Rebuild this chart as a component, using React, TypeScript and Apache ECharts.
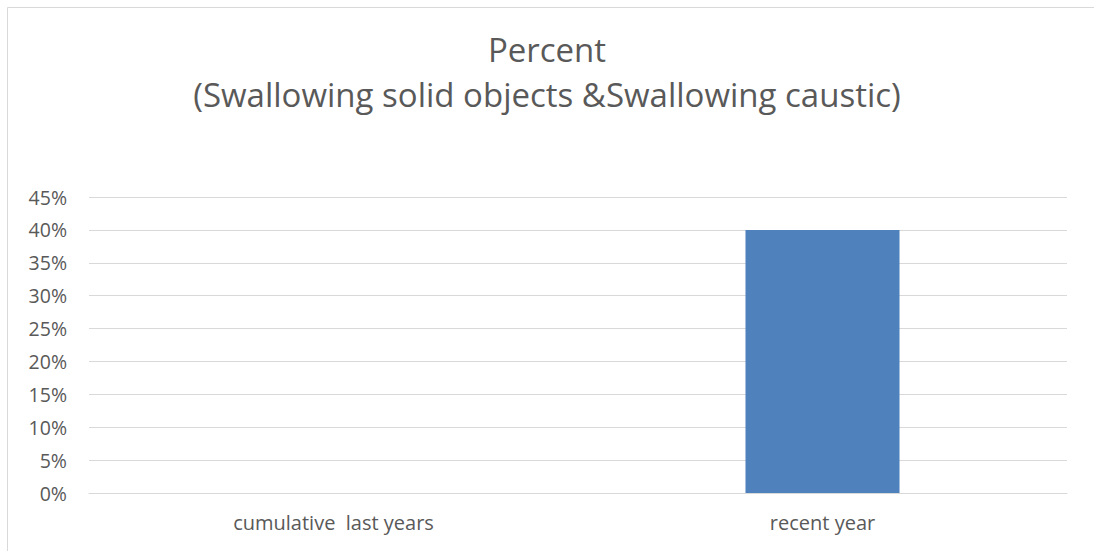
import React, { useEffect, useRef } from "react";
import * as echarts from "echarts";

const titleLines = ["Percent", "(Swallowing solid objects &Swallowing caustic)"];
const categories = ["cumulative  last years", "recent year"];
const values = [0, 0.4];
const yMin = 0;
const yMax = 0.45;
const yInterval = 0.05;

export default function App() {
  const ref = useRef<HTMLDivElement>(null);
  useEffect(() => {
    if (!ref.current) return;
    const chart = echarts.init(ref.current, undefined, { renderer: "svg" });
    const font = "'Open Sans', 'Liberation Sans', sans-serif";
    chart.setOption({
      animation: false,
      backgroundColor: "#ffffff",
      title: {
        text: titleLines.join("\n"),
        left: "center",
        top: 22,
        textStyle: {
          fontFamily: font,
          fontSize: 33,
          fontWeight: "normal",
          color: "#595959",
          lineHeight: 45,
        },
      },
      graphic: [
        {
          type: "polyline",
          shape: { points: [[7.5, 600], [7.5, 7.5], [1100, 7.5]] },
          style: { stroke: "#d9d9d9", fill: "none", lineWidth: 1 },
          silent: true,
        },
      ],
      grid: { left: 89, right: 27, top: 197, bottom: 58, containLabel: false },
      xAxis: {
        type: "category",
        data: categories,
        axisLine: { show: true, lineStyle: { color: "#d9d9d9", width: 1 } },
        axisTick: { show: false },
        axisLabel: {
          color: "#595959",
          fontFamily: font,
          fontSize: 20,
          margin: 19,
        },
      },
      yAxis: {
        type: "value",
        min: yMin,
        max: yMax,
        interval: yInterval,
        axisLine: { show: false },
        axisTick: { show: false },
        splitLine: { lineStyle: { color: "#d9d9d9", width: 1 } },
        axisLabel: {
          color: "#595959",
          fontFamily: font,
          fontSize: 19.5,
          margin: 22,
          formatter: (v: number) => `${Math.round(v * 100)}%`,
        },
      },
      series: [
        {
          type: "bar",
          data: values,
          barWidth: "31.5%",
          itemStyle: { color: "#4f81bd" },
        },
      ],
    });
    return () => chart.dispose();
  }, []);
  return (
    <div
      ref={ref}
      style={{ position: "absolute", left: 0, top: 0, width: 1094, height: 551 }}
    />
  );
}
